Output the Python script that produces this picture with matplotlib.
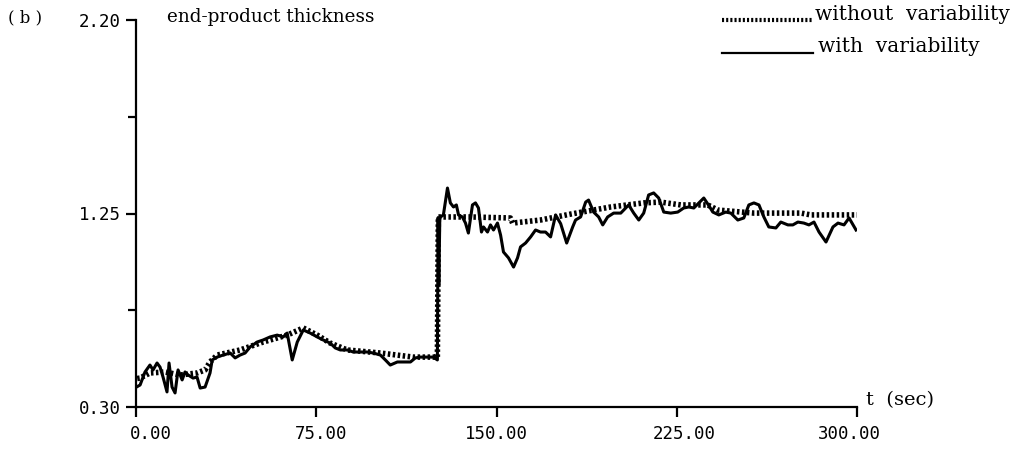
import numpy as np
import matplotlib
matplotlib.use("Agg")
import matplotlib.pyplot as plt
from matplotlib.lines import Line2D
from matplotlib.ticker import FixedLocator
from matplotlib.transforms import ScaledTranslation

# end-product thickness, with process variability (solid trace)
t_with = [0.5, 1.7, 3.75, 5.8, 7.1, 8.75, 10, 11.25, 12.9, 13.75, 15, 16.25, 17.5, 19.2, 20.4,
          21.7, 23.75, 25.4, 26.7, 28.75, 30.8, 31.7, 33.75, 36.25, 39.2, 41.25, 43.3, 45.4,
          47.5, 50.4, 52.9, 55.8, 58.75, 61.25, 62.9, 65, 67.1, 69.6, 72.5, 75.4, 77.9, 80.8,
          82.9, 85, 87.9, 90.4, 93.3, 96.25, 98.75, 101.7, 103.75, 105.8, 108.75, 111.25,
          114.2, 116.25, 118.3, 121.25, 123.75, 125.4, 125.7, 126.0, 126.4, 126.7, 127.9,
          129.6, 130.8, 132.1, 133.3, 134.2, 135.8, 137.1, 138.3, 140, 141.25, 142.5, 143.75,
          144.6, 146.25, 147.5, 148.75, 150.4, 151.7, 152.9, 155, 157.1, 158.75, 160, 162.1,
          164.2, 166.25, 168.3, 170.4, 172.5, 174.6, 176.7, 179.2, 181.7, 182.9, 185, 187.1,
          188.3, 190.4, 192.5, 194.2, 196.25, 198.75, 201.7, 203.75, 205, 207.1, 209.2,
          211.25, 213.3, 215.4, 217.5, 219.6, 222.5, 225.4, 227.9, 230, 232.1, 234.2, 236.25,
          238.3, 240, 242.5, 245.4, 247.5, 250.4, 252.9, 255, 257.1, 259.2, 261.25, 263.3,
          266.25, 268.3, 271.25, 273.3, 275.4, 277.9, 280, 282.1, 284.2, 287.1, 290, 292.1,
          294.6, 296.7, 299.6]
v_with = [0.40, 0.408, 0.472, 0.506, 0.482, 0.516, 0.496, 0.447, 0.374, 0.516, 0.398, 0.369,
          0.482, 0.433, 0.472, 0.457, 0.442, 0.447, 0.393, 0.398, 0.467, 0.531, 0.545, 0.555,
          0.565, 0.541, 0.555, 0.565, 0.595, 0.619, 0.629, 0.644, 0.653, 0.644, 0.663, 0.531,
          0.619, 0.678, 0.663, 0.644, 0.629, 0.614, 0.590, 0.580, 0.580, 0.570, 0.570, 0.570,
          0.565, 0.555, 0.531, 0.506, 0.521, 0.521, 0.521, 0.541, 0.545, 0.545, 0.545, 0.531,
          1.23, 0.90, 1.22, 1.233, 1.243, 1.375, 1.302, 1.282, 1.292, 1.243, 1.233, 1.203,
          1.154, 1.292, 1.302, 1.277, 1.159, 1.184, 1.159, 1.194, 1.169, 1.203, 1.144, 1.061,
          1.032, 0.987, 1.032, 1.086, 1.105, 1.135, 1.169, 1.159, 1.159, 1.135, 1.243, 1.20,
          1.105, 1.184, 1.218, 1.233, 1.306, 1.316, 1.257, 1.233, 1.194, 1.233, 1.252, 1.252,
          1.277, 1.292, 1.252, 1.218, 1.252, 1.341, 1.351, 1.326, 1.257, 1.252, 1.257, 1.277,
          1.282, 1.277, 1.302, 1.326, 1.29, 1.257, 1.243, 1.257, 1.252, 1.218, 1.228, 1.292,
          1.302, 1.292, 1.233, 1.184, 1.179, 1.208, 1.194, 1.194, 1.208, 1.203, 1.194, 1.208,
          1.159, 1.110, 1.184, 1.203, 1.194, 1.228, 1.169]

# end-product thickness, without variability (dotted trace)
t_without = [0.5, 1.7, 5.8, 12.1, 18.3, 25.4, 28.75, 30.8, 33.75, 43.3, 52.9, 62.9, 69.6, 75.4,
             80.8, 87.9, 101.7, 115.4, 125.4, 125.8, 139.2, 155.8, 156.7, 168.3, 180.8, 197.5,
             211.25, 218.3, 226.7, 237.9, 242.1, 257.1, 276.7, 280.8, 300]
v_without = [0.44, 0.442, 0.467, 0.472, 0.457, 0.467, 0.482, 0.521, 0.555, 0.580, 0.619, 0.653,
             0.688, 0.653, 0.614, 0.580, 0.565, 0.545, 0.545, 1.233, 1.233, 1.228, 1.203, 1.218,
             1.247, 1.282, 1.302, 1.306, 1.292, 1.292, 1.267, 1.252, 1.252, 1.243, 1.243]

x_ticks = [0, 75, 150, 225, 300]
y_ticks = [0.30, 1.25, 2.20]
y_minor = [0.775, 1.725]

W, H = 1022, 453
fig = plt.figure(figsize=(W / 100, H / 100), dpi=100)
ax = fig.add_axes([136 / W, 1 - 407 / H, (857 - 136) / W, (407 - 20) / H])

ax.plot(t_without, v_without, color="black", lw=4.0, linestyle=(0, (0.45, 0.45)),
        dash_capstyle="butt", zorder=2)
ax.plot(t_with, v_with, color="black", lw=2.2, solid_joinstyle="round", zorder=3)

ax.set_xlim(0, 300)
ax.set_ylim(0.30, 2.20)
for s in ("top", "right"):
    ax.spines[s].set_visible(False)
for s in ("left", "bottom"):
    ax.spines[s].set_linewidth(1.6)

ax.set_xticks(x_ticks)
ax.set_xticklabels([f"{v:.2f}" for v in x_ticks])
ax.set_yticks(y_ticks)
ax.set_yticklabels([f"{v:.2f}" for v in y_ticks])
ax.yaxis.set_minor_locator(FixedLocator(y_minor))
ax.tick_params(axis="both", which="both", direction="out", length=7, width=1.6,
               labelsize=12.5, pad=6)
ax.tick_params(axis="y", which="minor", length=6)
ax.tick_params(axis="y", pad=4)
for lab in ax.get_xticklabels() + ax.get_yticklabels():
    lab.set_family("DejaVu Sans Mono")

# the original's x labels are not quite centred under their ticks
x_shift = [15, 5, 0, 7, -8]
for lab, dx in zip(ax.get_xticklabels(), x_shift):
    lab.set_transform(lab.get_transform() + ScaledTranslation(dx / 100, 0, fig.dpi_scale_trans))

txt = dict(family="DejaVu Serif", color="black")
fig.text(8 / W, 1 - 18 / H, "( b )", va="center", ha="left", fontsize=12, **txt)
fig.text(167 / W, 1 - 17 / H, "end-product thickness", va="center", ha="left", fontsize=13.2, **txt)
fig.text(866 / W, 1 - 400 / H, "t  (sec)", va="center", ha="left", fontsize=14, **txt)

# legend drawn by hand to sit like the original
fig.add_artist(Line2D([722 / W, 813 / W], [1 - 20 / H, 1 - 20 / H], transform=fig.transFigure,
                      color="black", lw=3.0, linestyle=(0, (0.5, 0.5)), dash_capstyle="butt"))
fig.text(815 / W, 1 - 14 / H, "without  variability", va="center", ha="left", fontsize=14.5, **txt)
fig.add_artist(Line2D([722 / W, 813 / W], [1 - 53 / H, 1 - 53 / H], transform=fig.transFigure,
                      color="black", lw=1.6))
fig.text(818 / W, 1 - 46 / H, "with  variability", va="center", ha="left", fontsize=14.5, **txt)

fig.savefig("out.png", dpi=100)
